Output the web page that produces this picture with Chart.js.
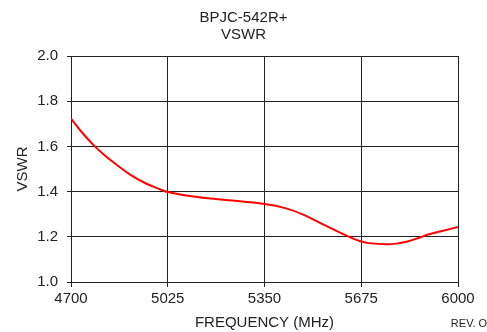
<!DOCTYPE html>
<html>
<head>
<meta charset="utf-8">
<script src="https://cdn.jsdelivr.net/npm/chart.js@4/dist/chart.umd.min.js"></script>
<style>
  html, body { margin: 0; padding: 0; background: #fff; }
  #wrap { width: 487px; height: 332px; }
</style>
</head>
<body>
<div id="wrap"><canvas id="chart" width="487" height="332"></canvas></div>
<script>
const titleLines = ['BPJC-542R+', 'VSWR'];
const freqs = [4700, 4740, 4780, 4820, 4850, 4900, 4950, 5000, 5025, 5110, 5220, 5350,
  5420, 5480, 5540, 5600, 5650, 5675, 5700, 5760, 5800, 5830, 5870, 5900, 5950, 6000];
const vswr = [1.723, 1.657, 1.600, 1.553, 1.522, 1.474, 1.437, 1.410, 1.398, 1.378, 1.363, 1.345,
  1.327, 1.298, 1.259, 1.221, 1.191, 1.179, 1.172, 1.167, 1.171, 1.179, 1.196, 1.210, 1.227, 1.243];
const xTicks = [4700, 5025, 5350, 5675, 6000];
const yTicks = [1.0, 1.2, 1.4, 1.6, 1.8, 2.0];

const font = 'Liberation Sans, Arial, sans-serif';
const ink = '#222';

const extraText = {
  id: 'extraText',
  afterDraw(chart) {
    const c = chart.ctx;
    c.save();
    c.fillStyle = ink;
    c.textAlign = 'center';
    c.textBaseline = 'middle';
    c.font = '15px ' + font;
    c.fillText(titleLines[0], 243.5, 17.5);
    c.fillText(titleLines[1], 243.5, 34.5);
    c.font = '11px ' + font;
    c.fillText('REV. O', 469, 324);
    c.restore();
  }
};

const ctx = document.querySelector('#chart').getContext('2d');

new Chart(ctx, {
  type: 'line',
  data: {
    datasets: [{
      data: freqs.map((f, i) => ({ x: f, y: vswr[i] })),
      borderColor: '#ff0000',
      borderWidth: 2,
      pointRadius: 0,
      fill: false,
      tension: 0.4
    }]
  },
  options: {
    responsive: false,
    animation: false,
    layout: { padding: { top: 56, right: 29, left: 0, bottom: 0 } },
    plugins: { legend: { display: false }, tooltip: { enabled: false } },
    scales: {
      x: {
        type: 'linear',
        min: xTicks[0],
        max: xTicks[xTicks.length - 1],
        afterBuildTicks: s => { s.ticks = xTicks.map(v => ({ value: v })); },
        afterFit: s => { s.height = 50; },
        ticks: { color: ink, font: { family: font, size: 15 }, padding: 3, maxRotation: 0, callback: v => String(v) },
        grid: { color: ink, lineWidth: 1, tickLength: 5 },
        border: { color: ink },
        title: { display: true, text: 'FREQUENCY (MHz)', color: ink, font: { family: font, size: 15 }, padding: { top: 4, bottom: 0 } }
      },
      y: {
        min: 1,
        max: 2,
        afterBuildTicks: s => { s.ticks = yTicks.map(v => ({ value: v })); },
        afterFit: s => { s.width = 71; },
        ticks: { color: ink, font: { family: font, size: 15 }, padding: 9, callback: v => Number(v).toFixed(1) },
        grid: { color: ink, lineWidth: 1, tickLength: 4 },
        border: { color: ink },
        title: { display: true, text: 'VSWR', color: ink, font: { family: font, size: 15 }, padding: { top: 14, bottom: 0 } }
      }
    }
  },
  plugins: [extraText]
});
</script>
</body>
</html>
